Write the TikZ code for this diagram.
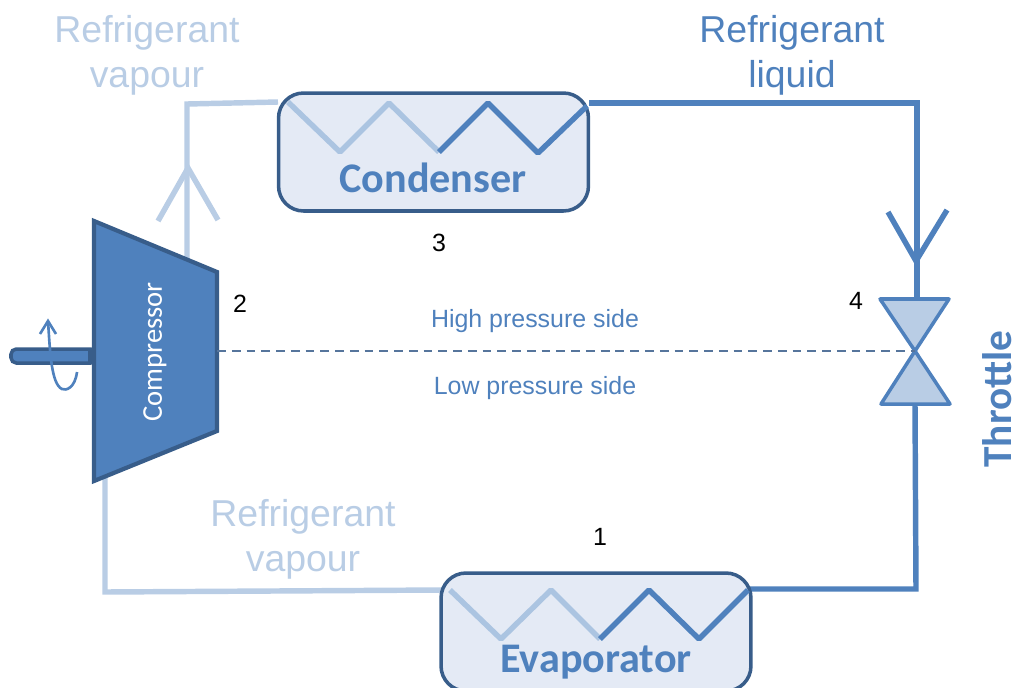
\documentclass[tikz,border=0pt]{standalone}
\usepackage{fontspec}
\setmainfont{Liberation Sans}
\newfontfamily\calibrifont{Carlito}
\definecolor{darkline}{HTML}{4F81BD}
\definecolor{lightline}{HTML}{B9CDE5}
\definecolor{coilline}{HTML}{ABC4E1}
\definecolor{edgeline}{HTML}{385D8A}
\definecolor{boxfill}{HTML}{E4EAF5}
\tikzset{
  hot/.style={draw=darkline, line width=3.1pt},
  cold/.style={draw=lightline, line width=3.1pt},
  coil/.style={draw=coilline, line width=3.1pt, line join=bevel},
  exchanger/.style={draw=edgeline, fill=boxfill, line width=2pt, rounded corners=0.5cm, minimum width=6.2cm, minimum height=2.36cm, inner sep=0pt},
  exchangerlabel/.style={text=darkline, font=\calibrifont\bfseries\fontsize{24}{26}\selectfont, inner sep=0pt},
  biglabel/.style={font=\fontsize{21.3}{25.5}\selectfont, inner sep=0pt, align=center},
  sidelabel/.style={text=darkline, font=\fontsize{14.2}{17}\selectfont, inner sep=0pt},
  statelabel/.style={text=black, font=\fontsize{14.2}{17}\selectfont, inner sep=0pt},
  valve/.style={draw=darkline, fill=lightline, line width=2pt, line join=round}
}
\begin{document}
\begin{tikzpicture}[x=0.02cm, y=-0.02cm]
\useasboundingbox (0,0) rectangle (1018,687);
%corners of the circuit
\coordinate (comptop) at (94,221);
\coordinate (compright) at (217,272);
\coordinate (compbottomright) at (217,431);
\coordinate (compbottom) at (94,481);
\coordinate (outlet) at (187,265);
\coordinate (inlet) at (105,478);
\coordinate (vapourcorner) at (187,104);
\coordinate (returncorner) at (105,592);
\coordinate (liquidcorner) at (917,103);
\coordinate (evapcorner) at (916,589);
\coordinate (valvemid) at (915,351);
\coordinate (dashstart) at (217,351);
%circuit lines
\draw[cold] (outlet) -- (vapourcorner) -- (278,102);
\draw[cold] (inlet) -- (returncorner) -- (442,590);
\draw[hot] (589,103) -- (liquidcorner) -- (917,299);
\draw[hot] (915,404) -- (evapcorner) -- (750,589);
%exchangers
\node[exchanger] (condenser) at (433.5,152) {};
\node[exchanger] (evaporator) at (596,632) {};
\node[exchangerlabel] (condenserlabel) at (433,178) {Condenser};
\node[exchangerlabel] (evaporatorlabel) at (596,662) {Evaporator};
%coils
\draw[coil] (288,102) -- (340,152) -- (389,103) -- (439,152);
\draw[hot, line join=bevel] (439,152) -- (488,103) -- (538,153) -- (587,106);
\draw[coil] (450,590) -- (501,639) -- (551,590) -- (600,639);
\draw[hot, line join=bevel] (600,639) -- (649,590) -- (699,639) -- (748,590);
%flow arrows
\coordinate (coldapex) at (188,168);
\coordinate (hotapex) at (916,261);
\draw[cold, line join=miter] (158,221) -- (coldapex) -- (218,220);
\draw[hot, line join=miter] (888,212) -- (hotapex) -- (947,210);
%compressor
\draw[draw=edgeline, fill=darkline, line width=2pt, rounded corners=3pt] (11,349) rectangle (96,363);
\fill[edgeline] (88,348) rectangle (96,364);
\draw[draw=edgeline, fill=darkline, line width=2.4pt, line join=miter] (comptop) -- (compright) -- (compbottomright) -- (compbottom) -- cycle;
\node[text=white, font=\calibrifont\fontsize{16.3}{20}\selectfont, rotate=90, inner sep=0pt] (compressor) at (155,352) {Compressor};
%rotation sign
\coordinate (spintip) at (48,321);
\draw[draw=darkline, line width=1.5pt] (77,372) .. controls (75,388) and (66,391) .. (62,389) .. controls (51,384) and (50,350) .. (spintip);
\draw[draw=darkline, line width=1.5pt] (40,334) -- (spintip) -- (56,334);
%throttle
\draw[valve] (880,299) -- (949,299) -- (valvemid) -- cycle;
\draw[valve] (881,404) -- (950,404) -- (valvemid) -- cycle;
\node[text=darkline, font=\calibrifont\bfseries\fontsize{23.5}{26}\selectfont, rotate=90, inner sep=0pt] (throttle) at (997,399) {Throttle};
%pressure divide
\draw[draw=edgeline!85!white, line width=0.8pt, dashed, dash pattern=on 5pt off 3.4pt] (dashstart) -- (valvemid);
\node[sidelabel] (high) at (535,321) {High pressure side};
\node[sidelabel] (low) at (535,388) {Low pressure side};
%labels
\node[biglabel, text=lightline] (vapourtop) at (147,55) {Refrigerant\\vapour};
\node[biglabel, text=darkline] (liquid) at (792,55) {Refrigerant\\liquid};
\node[biglabel, text=lightline] (vapourbottom) at (303,539) {Refrigerant\\vapour};
\node[statelabel] (state1) at (600,537) {1};
\node[statelabel] (state2) at (240,304) {2};
\node[statelabel] (state3) at (439,243) {3};
\node[statelabel] (state4) at (856,301) {4};
\end{tikzpicture}
\end{document}
